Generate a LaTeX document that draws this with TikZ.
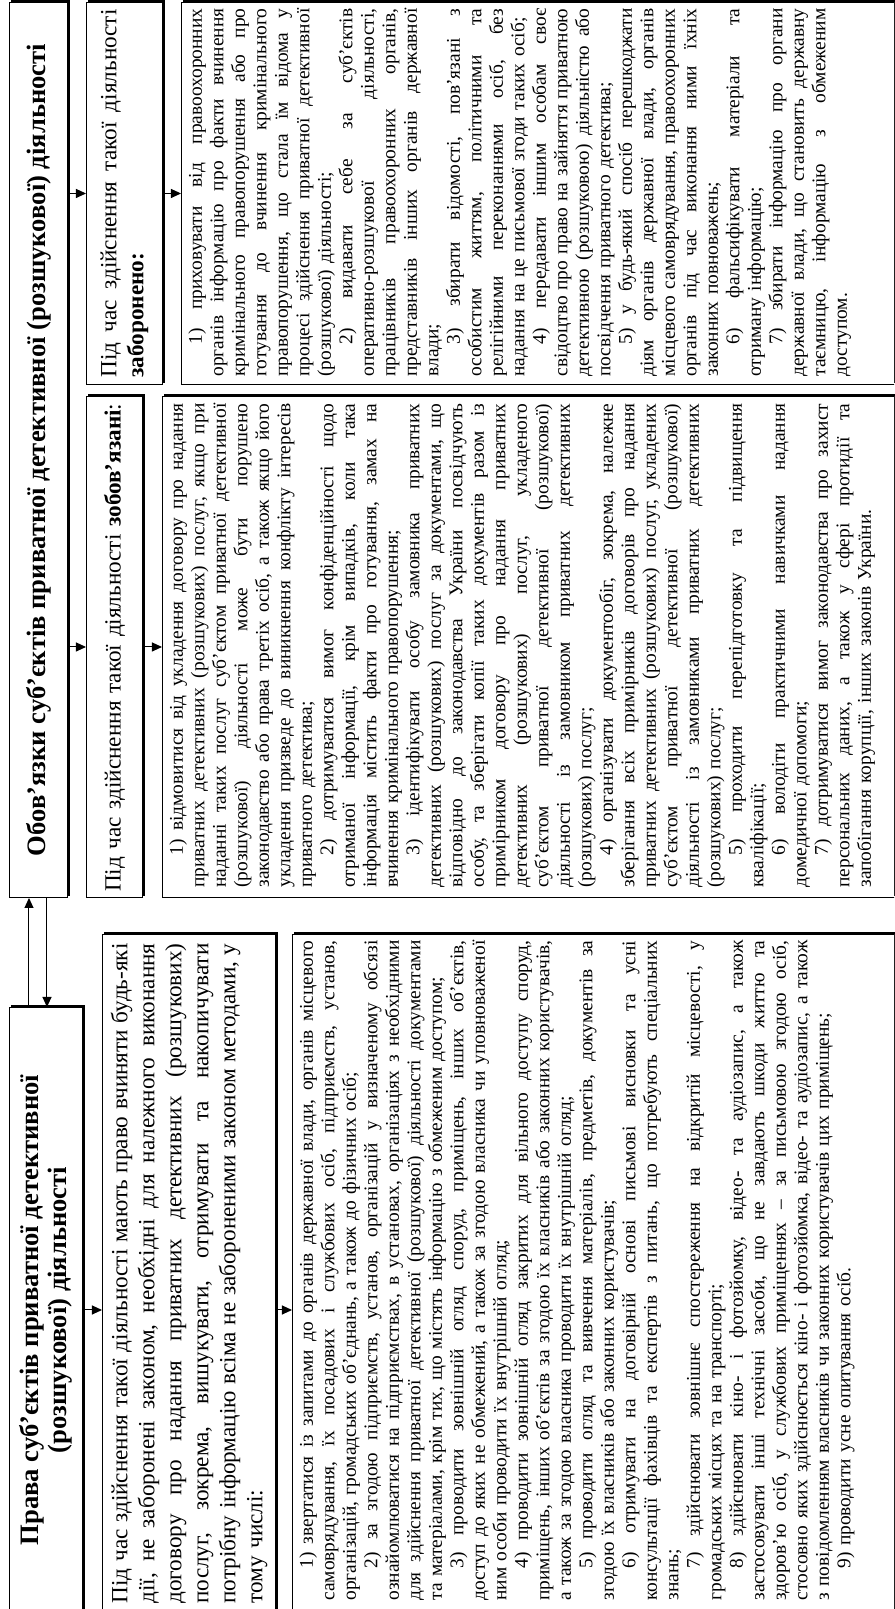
\documentclass[tikz,border=0pt]{standalone}
\usepackage{fontspec}
\setmainfont{Liberation Serif}
\usetikzlibrary{arrows.meta,positioning,calc}
\pgfdeclarelayer{background}
\pgfsetlayers{background,main}

\newcommand\jline[1]{\hbox to\hsize{\frenchspacing\spaceskip=.25em plus 1fil minus .08em\relax #1}}
\newcommand\eline[1]{\hbox to\hsize{#1\hfil}}
\newcommand\indt{\hspace*{16pt}}

\tikzset{
    box/.style={draw, line width=0.5pt, fill=white, inner sep=0pt, anchor=south west},
    arr/.style={-{Triangle[length=5pt,width=4.5pt]}, line width=0.5pt},
    ttl/.style={font=\fontsize{13.3}{14}\selectfont\bfseries, align=center},
    hd/.style={font=\fontsize{11.6}{13.5}\selectfont},
    lst/.style={font=\fontsize{9.7}{10.75}\selectfont, inner sep=0pt, anchor=north west}
}

\begin{document}
\begin{tikzpicture}[x=0.5pt, y=0.5pt]
    \begin{scope}[rotate=90, transform shape]
    \path[use as bounding box, clip] (0,0) rectangle (1609,894);

    \node[box, ttl, minimum width=447.5pt, minimum height=29pt] (oblig) at (711,826) {Обов’язки суб’єктів приватної детективної (розшукової) діяльності};
    \node[box, ttl, minimum width=302.5pt, minimum height=36.5pt] (pravatitle) at (-4,811) {Права суб’єктів приватної детективної\\(розшукової) діяльності};

    \node[box, hd, minimum width=191pt, minimum height=38pt, text width=184pt] (zabhead) at (1224,731) {%
        \jline{Під час здійснення такої діяльності}
        \eline{\textbf{заборонено:}}};
    \node[box, hd, minimum width=250.5pt, minimum height=28pt, text width=245pt] (zobhead) at (711,751) {%
        \eline{Під час здійснення такої діяльності \textbf{зобов’язані}:}};
    \node[box, hd, minimum width=339pt, minimum height=86.5pt, text width=330pt] (pravatext) at (-4,618) {%
        \jline{Під час здійснення такої діяльності мають право вчиняти будь-які}
        \jline{дії, не заборонені законом, необхідні для належного виконання}
        \jline{договору про надання приватних детективних (розшукових)}
        \jline{послуг, зокрема, вишукувати, отримувати та накопичувати}
        \jline{потрібну інформацію всіма не забороненими законом методами, у}
        \eline{тому числі:}};

    \node[box, minimum width=191pt, minimum height=360pt] (zablist) at (1224,-8) {};
    \node[box, minimum width=250.5pt, minimum height=370pt] (zoblist) at (711,-9) {};
    \node[box, minimum width=339pt, minimum height=304.5pt] (pravalist) at (-4,-8) {};

    \node[lst, text width=184pt, below right=3.5pt and 4pt of zablist.north west] (zabtext) {%
        \jline{\indt 1) приховувати від правоохоронних}
        \jline{органів інформацію про факти вчинення}
        \jline{кримінального правопорушення або про}
        \jline{готування до вчинення кримінального}
        \jline{правопорушення, що стала їм відома у}
        \jline{процесі здійснення приватної детективної}
        \eline{(розшукової) діяльності;}
        \jline{\indt 2) видавати себе за суб’єктів}
        \jline{оперативно-розшукової діяльності,}
        \jline{працівників правоохоронних органів,}
        \jline{представників інших органів державної}
        \eline{влади;}
        \jline{\indt 3) збирати відомості, пов’язані з}
        \jline{особистим життям, політичними та}
        \jline{релігійними переконаннями осіб, без}
        \eline{надання на це письмової згоди таких осіб;}
        \jline{\indt 4) передавати іншим особам своє}
        \jline{свідоцтво про право на зайняття приватною}
        \jline{детективною (розшуковою) діяльністю або}
        \eline{посвідчення приватного детектива;}
        \jline{\indt 5) у будь-який спосіб перешкоджати}
        \jline{діям органів державної влади, органів}
        \jline{місцевого самоврядування, правоохоронних}
        \jline{органів під час виконання ними їхніх}
        \eline{законних повноважень;}
        \jline{\indt 6) фальсифікувати матеріали та}
        \eline{отриману інформацію;}
        \jline{\indt 7) збирати інформацію про органи}
        \jline{державної влади, що становить державну}
        \jline{таємницю, інформацію з обмеженим}
        \eline{доступом.}};

    \node[lst, text width=242pt, below right=3.5pt and 5pt of zoblist.north west] (zobtext) {%
        \jline{\indt 1) відмовитися від укладення договору про надання}
        \jline{приватних детективних (розшукових) послуг, якщо при}
        \jline{наданні таких послуг суб’єктом приватної детективної}
        \jline{(розшукової) діяльності може бути порушено}
        \jline{законодавство або права третіх осіб, а також якщо його}
        \jline{укладення призведе до виникнення конфлікту інтересів}
        \eline{приватного детектива;}
        \jline{\indt 2) дотримуватися вимог конфіденційності щодо}
        \jline{отриманої інформації, крім випадків, коли така}
        \jline{інформація містить факти про готування, замах на}
        \eline{вчинення кримінального правопорушення;}
        \jline{\indt 3) ідентифікувати особу замовника приватних}
        \jline{детективних (розшукових) послуг за документами, що}
        \jline{відповідно до законодавства України посвідчують}
        \jline{особу, та зберігати копії таких документів разом із}
        \jline{примірником договору про надання приватних}
        \jline{детективних (розшукових) послуг, укладеного}
        \jline{суб’єктом приватної детективної (розшукової)}
        \jline{діяльності із замовником приватних детективних}
        \eline{(розшукових) послуг;}
        \jline{\indt 4) організувати документообіг, зокрема, належне}
        \jline{зберігання всіх примірників договорів про надання}
        \jline{приватних детективних (розшукових) послуг, укладених}
        \jline{суб’єктом приватної детективної (розшукової)}
        \jline{діяльності із замовниками приватних детективних}
        \eline{(розшукових) послуг;}
        \jline{\indt 5) проходити перепідготовку та підвищення}
        \eline{кваліфікації;}
        \jline{\indt 6) володіти практичними навичками надання}
        \eline{домедичної допомоги;}
        \jline{\indt 7) дотримуватися вимог законодавства про захист}
        \jline{персональних даних, а також у сфері протидії та}
        \eline{запобігання корупції, інших законів України.}};

    \node[lst, text width=330pt, below right=3.5pt and 6pt of pravalist.north west] (pravatxt) {%
        \jline{\indt 1) звертатися із запитами до органів державної влади, органів місцевого}
        \jline{самоврядування, їх посадових і службових осіб, підприємств, установ,}
        \eline{організацій, громадських об’єднань, а також до фізичних осіб;}
        \jline{\indt 2) за згодою підприємств, установ, організацій у визначеному обсязі}
        \jline{ознайомлюватися на підприємствах, в установах, організаціях з необхідними}
        \jline{для здійснення приватної детективної (розшукової) діяльності документами}
        \eline{та матеріалами, крім тих, що містять інформацію з обмеженим доступом;}
        \jline{\indt 3) проводити зовнішній огляд споруд, приміщень, інших об’єктів,}
        \jline{доступ до яких не обмежений, а також за згодою власника чи уповноваженої}
        \eline{ним особи проводити їх внутрішній огляд;}
        \jline{\indt 4) проводити зовнішній огляд закритих для вільного доступу споруд,}
        \jline{приміщень, інших об’єктів за згодою їх власників або законних користувачів,}
        \eline{а також за згодою власника проводити їх внутрішній огляд;}
        \jline{\indt 5) проводити огляд та вивчення матеріалів, предметів, документів за}
        \eline{згодою їх власників або законних користувачів;}
        \jline{\indt 6) отримувати на договірній основі письмові висновки та усні}
        \jline{консультації фахівців та експертів з питань, що потребують спеціальних}
        \eline{знань;}
        \jline{\indt 7) здійснювати зовнішнє спостереження на відкритій місцевості, у}
        \eline{громадських місцях та на транспорті;}
        \jline{\indt 8) здійснювати кіно- і фотозйомку, відео- та аудіозапис, а також}
        \jline{застосовувати інші технічні засоби, що не завдають шкоди життю та}
        \jline{здоров’ю осіб, у службових приміщеннях – за письмовою згодою осіб,}
        \jline{стосовно яких здійснюється кіно- і фотозйомка, відео- та аудіозапис, а також}
        \eline{з повідомленням власників чи законних користувачів цих приміщень;}
        \eline{\indt 9) проводити усне опитування осіб.}};

    \draw[arr] (zabhead.north |- oblig.south) -- (zabhead.north);
    \draw[arr] (zabhead.south) -- (zablist.north);
    \draw[arr] (zobhead.north |- oblig.south) -- (zobhead.north);
    \draw[arr] (zobhead.south) -- (zoblist.north);
    \draw[arr] (pravatitle.south) -- (pravatitle.south |- pravatext.north);
    \draw[arr] (pravatitle.south |- pravatext.south) -- (pravatitle.south |- pravalist.north);

    \coordinate (uparr) at ($(pravatitle.north east)+(0,-20)$);
    \coordinate (dnarr) at ($(pravatitle.north east)+(0,-38)$);
    \draw[arr] (uparr) -- (oblig.west |- uparr);
    \draw[arr] (oblig.west |- dnarr) -- (dnarr);

    \begin{pgfonlayer}{background}
        \foreach \b in {oblig,pravatitle,zabhead,zobhead,pravatext,zablist,zoblist,pravalist}
            \fill ($(\b.south west)+(2,-2)$) rectangle ($(\b.north east)+(2,-2)$);
    \end{pgfonlayer}
    \end{scope}
\end{tikzpicture}
\end{document}
